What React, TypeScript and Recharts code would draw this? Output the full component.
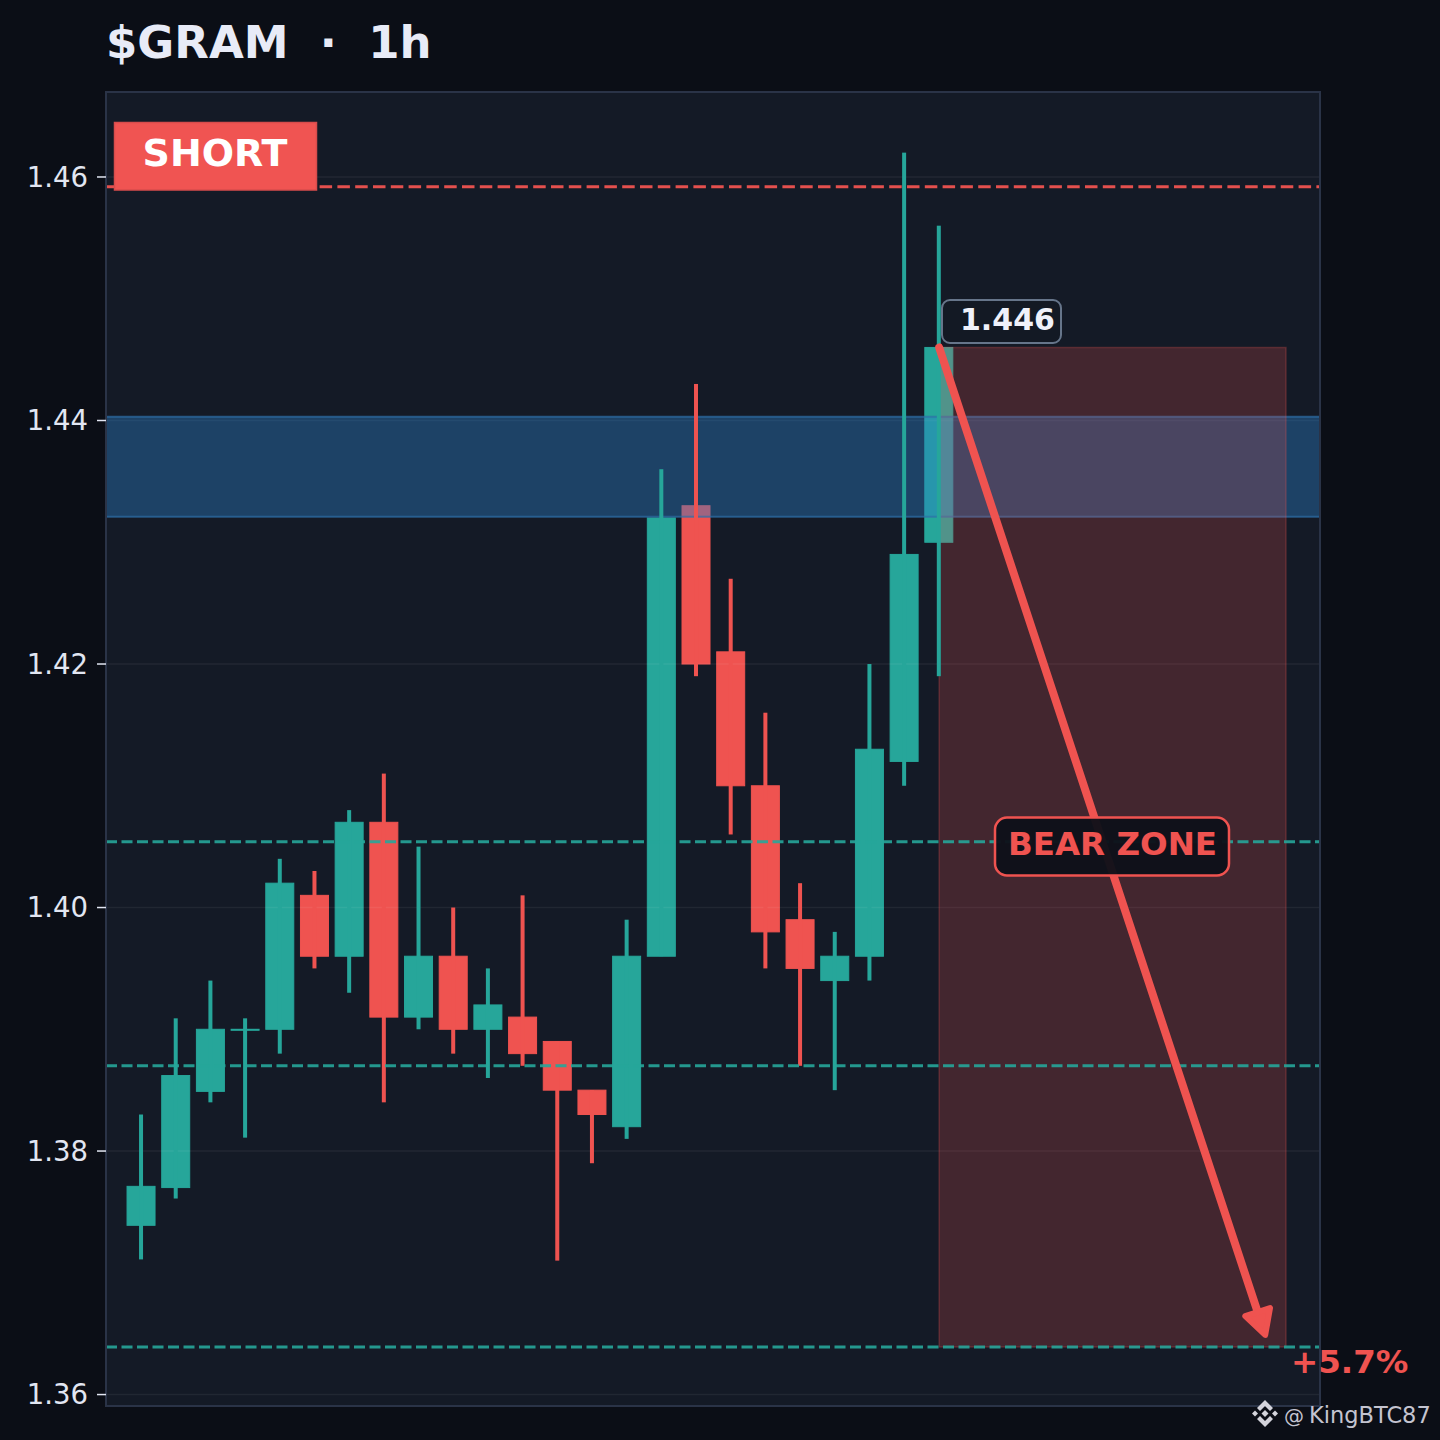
import React from "react";
import { Bar, CartesianGrid, ComposedChart, ReferenceArea, ReferenceLine, XAxis, YAxis } from "recharts";

const UP = "#26a69a";
const DOWN = "#ef5350";
const FONT = "'DejaVu Sans', sans-serif";

const candleIndex = [0, 1, 2, 3, 4, 5, 6, 7, 8, 9, 10, 11, 12, 13, 14, 15, 16, 17, 18, 19, 20, 21, 22, 23];
const opens = [1.3739, 1.377, 1.3849, 1.39, 1.39, 1.401, 1.396, 1.407, 1.391, 1.396, 1.39, 1.391, 1.389, 1.385, 1.382, 1.396, 1.433, 1.421, 1.41, 1.399, 1.394, 1.396, 1.412, 1.43];
const closes = [1.3771, 1.3862, 1.39, 1.39, 1.402, 1.396, 1.407, 1.391, 1.396, 1.39, 1.392, 1.388, 1.385, 1.383, 1.396, 1.432, 1.42, 1.41, 1.398, 1.395, 1.396, 1.413, 1.429, 1.446];
const highs = [1.383, 1.3909, 1.394, 1.3909, 1.404, 1.403, 1.408, 1.411, 1.405, 1.4, 1.395, 1.401, 1.389, 1.385, 1.399, 1.436, 1.443, 1.427, 1.416, 1.402, 1.398, 1.42, 1.462, 1.456];
const lows = [1.3711, 1.3761, 1.384, 1.3811, 1.388, 1.395, 1.393, 1.384, 1.39, 1.388, 1.386, 1.387, 1.371, 1.379, 1.381, 1.396, 1.419, 1.406, 1.395, 1.387, 1.385, 1.394, 1.41, 1.419];

const yTicks = [1.36, 1.38, 1.4, 1.42, 1.44, 1.46];
const yDomain = [1.35906, 1.46698];
const xDomain = [-1.02, 33.98];
const stopLevel = 1.4592;
const supportLevels = [1.4054, 1.387, 1.3639];
const blueBand = [1.4321, 1.4403];
const bearZone = { x1: 23, x2: 33, y1: 1.3639, y2: 1.446 };
const arrowPath = { x1: 23, y1: 1.446, x2: 32.4, y2: 1.3649 };

const candles = candleIndex.map((i) => ({
  i,
  up: closes[i] >= opens[i],
  body: [Math.min(opens[i], closes[i]), Math.max(opens[i], closes[i])],
  wick: [lows[i], highs[i]],
}));

function CandleBody(props: any) {
  const { x, y, width, height, payload } = props;
  const color = payload.up ? UP : DOWN;
  return <rect x={x} y={y} width={width} height={Math.max(height, 1)} fill={color} stroke={color} strokeWidth={1} />;
}

function CandleWick(props: any) {
  const { x, y, width, height, payload } = props;
  return <rect x={x + width / 2 - 2} y={y} width={4} height={height} fill={payload.up ? UP : DOWN} />;
}

function Arrow(props: any) {
  const { x1, y1, x2, y2 } = props;
  const a = Math.atan2(y2 - y1, x2 - x1);
  const point = (len: number, off: number) => {
    const px = x2 + len * Math.cos(a) - off * Math.sin(a);
    const py = y2 + len * Math.sin(a) + off * Math.cos(a);
    return `${px},${py}`;
  };
  return (
    <g>
      <line x1={x1} y1={y1} x2={x2 - 14 * Math.cos(a)} y2={y2 - 14 * Math.sin(a)} stroke={DOWN} strokeWidth={8} strokeLinecap="round" />
      <polygon
        points={`${point(0, 0)} ${point(-24, 13)} ${point(-24, -13)}`}
        fill={DOWN}
        stroke={DOWN}
        strokeWidth={6}
        strokeLinejoin="round"
      />
    </g>
  );
}

function Overlay() {
  return (
    <svg width={1440} height={1440} style={{ position: "absolute", left: 0, top: 0, pointerEvents: "none" }}>
      <text x={106} y={57.5} fill="#e8ebf7" fontFamily={FONT} fontWeight="bold" fontSize={45} style={{ whiteSpace: "pre" }}>
        {"$GRAM  ·  1h"}
      </text>
      <rect x={114.5} y={122.5} width={202} height={67.5} fill="#f05452" stroke="#d84c4c" strokeWidth={1.5} />
      <text x={215} y={166} textAnchor="middle" fill="#ffffff" fontFamily={FONT} fontWeight="bold" fontSize={38}>
        SHORT
      </text>
      <rect x={942} y={300} width={119} height={43} rx={8} fill="#131924" stroke="#66758a" strokeWidth={2} />
      <text x={960} y={330} fill="#eff1fa" fontFamily={FONT} fontWeight="bold" fontSize={30}>
        1.446
      </text>
      <rect x={995} y={817.5} width={234} height={58} rx={12} fill="#0f1119" fillOpacity={0.96} stroke="#ef5350" strokeWidth={2.5} />
      <text x={1112.5} y={855} textAnchor="middle" fill="#ef5350" fontFamily={FONT} fontWeight="bold" fontSize={32.5}>
        BEAR ZONE
      </text>
      <text x={1291} y={1373} fill="#ef5350" fontFamily={FONT} fontWeight="bold" fontSize={32.5}>
        +5.7%
      </text>
      <g fill="#d4d4dc">
        <path d="M1265 1400l8 8-3 3-5-5-5 5-3-3z" />
        <path d="M1265 1427l8-8-3-3-5 5-5-5-3 3z" />
        <path d="M1265 1410l3.500 3.500-3.500 3.500-3.500-3.500z" />
        <path d="M1255 1410.500l3 3-3 3-3-3z" />
        <path d="M1275 1410.500l3 3-3 3-3-3z" />
      </g>
      <text x={1284} y={1423} fill="#c4c4d0" fontFamily={FONT} fontSize={20}>
        @
      </text>
      <text x={1309} y={1423} fill="#c4c4d0" fontFamily={FONT} fontSize={22.5}>
        KingBTC87
      </text>
    </svg>
  );
}

export default function App() {
  return (
    <div style={{ position: "absolute", left: 0, top: 0, width: 1440, height: 1440, background: "#0b0e16" }}>
      <ComposedChart width={1440} height={1440} data={candles} barGap={-28} margin={{ top: 92, right: 120, left: 0, bottom: 34 }}>
        <XAxis dataKey="i" type="number" domain={xDomain} allowDataOverflow hide />
        <YAxis
          type="number"
          domain={yDomain}
          allowDataOverflow
          ticks={yTicks}
          width={106}
          tickFormatter={(v: number) => v.toFixed(2)}
          tick={{ fill: "#e2e6f2", fontSize: 27.5, fontFamily: FONT }}
          tickLine={{ stroke: "#e2e6f2", strokeWidth: 1.5 }}
          tickSize={9}
          tickMargin={9}
          axisLine={false}
        />
        <ReferenceArea x1={xDomain[0]} x2={xDomain[1]} y1={yDomain[0]} y2={yDomain[1]} fill="#141a26" fillOpacity={1} stroke="none" zIndex={1} />
        <Bar dataKey="body" barSize={28} shape={<CandleBody />} isAnimationActive={false} zIndex={2} />
        <CartesianGrid vertical={false} stroke="#ffffff" strokeOpacity={0.06} strokeWidth={1.5} zIndex={3} />
        <ReferenceArea x1={xDomain[0]} x2={xDomain[1]} y1={blueBand[0]} y2={blueBand[1]} fill="#2a80c8" fillOpacity={0.4} stroke="#2d6fa8" strokeOpacity={0.7} strokeWidth={2} zIndex={4} />
        <ReferenceArea {...bearZone} fill={DOWN} fillOpacity={0.22} stroke={DOWN} strokeOpacity={0.25} strokeWidth={1.5} zIndex={5} />
        <Bar dataKey="wick" barSize={28} shape={<CandleWick />} isAnimationActive={false} zIndex={6} />
        <ReferenceLine y={stopLevel} stroke={DOWN} strokeOpacity={0.95} strokeWidth={3} strokeDasharray="12.5 5.3" zIndex={7} />
        {supportLevels.map((level) => (
          <ReferenceLine key={level} y={level} stroke={UP} strokeOpacity={0.9} strokeWidth={3} strokeDasharray="11 4.5" zIndex={7} />
        ))}
        <ReferenceLine
          segment={[
            { x: arrowPath.x1, y: arrowPath.y1 },
            { x: arrowPath.x2, y: arrowPath.y2 },
          ]}
          shape={<Arrow />}
          zIndex={8}
        />
        <ReferenceArea x1={xDomain[0]} x2={xDomain[1]} y1={yDomain[0]} y2={yDomain[1]} fillOpacity={0} stroke="#2a3347" strokeWidth={2} zIndex={9} />
      </ComposedChart>
      <Overlay />
    </div>
  );
}
